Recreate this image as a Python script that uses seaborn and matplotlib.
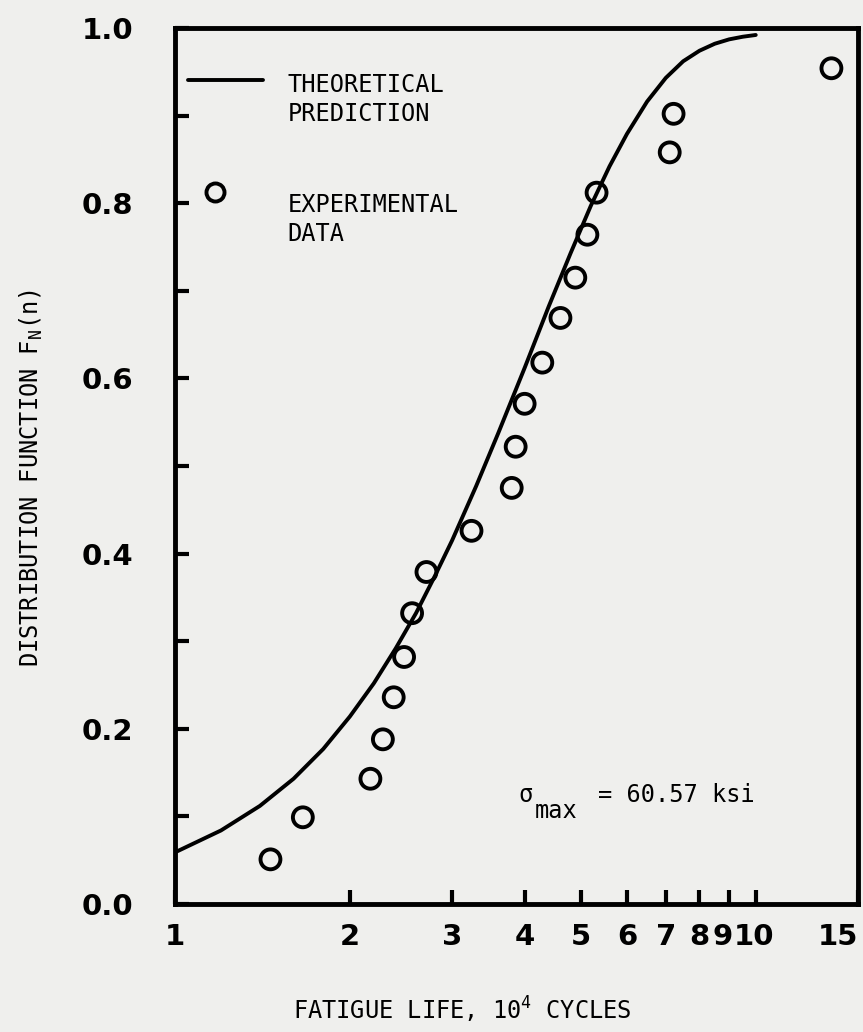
import numpy as np
import pandas as pd
import matplotlib
matplotlib.use("Agg")
import matplotlib.pyplot as plt
import matplotlib.transforms as mtransforms
from matplotlib.ticker import FixedLocator, NullLocator, FixedFormatter
from matplotlib.lines import Line2D
import seaborn as sns

# experimental data (fatigue life in 10^4 cycles, distribution function)
exp_life = [1.46, 1.66, 2.17, 2.28, 2.38, 2.48, 2.56, 2.71, 3.24, 3.80,
            3.86, 4.00, 4.29, 4.61, 4.89, 5.13, 5.32, 7.11, 7.22, 13.5]
exp_fn = [0.051, 0.099, 0.143, 0.188, 0.236, 0.282, 0.332, 0.379, 0.426, 0.475,
          0.522, 0.571, 0.618, 0.669, 0.715, 0.764, 0.812, 0.858, 0.902, 0.954]

# theoretical prediction curve
theo_life = [1.0, 1.2, 1.4, 1.6, 1.8, 2.0, 2.2, 2.4, 2.6, 2.8, 3.0, 3.3, 3.6,
             4.0, 4.4, 4.8, 5.2, 5.6, 6.0, 6.5, 7.0, 7.5, 8.0, 8.5, 9.0, 9.5, 10.0]
theo_fn = [0.059, 0.084, 0.112, 0.143, 0.177, 0.214, 0.252, 0.292, 0.332, 0.374,
           0.415, 0.477, 0.537, 0.612, 0.682, 0.743, 0.797, 0.842, 0.879, 0.916,
           0.943, 0.962, 0.974, 0.982, 0.987, 0.990, 0.992]

x_ticks = [1, 2, 3, 4, 5, 6, 7, 8, 9, 10, 15]
x_ticklabels = ["1", "2", "3", "4", "5", "6", "7", "8", "9", "10", "15"]
y_ticks = [0.0, 0.2, 0.4, 0.6, 0.8, 1.0]
y_ticklabels = ["0.0", "0.2", "0.4", "0.6", "0.8", "1.0"]
y_minor = [0.1, 0.3, 0.5, 0.7, 0.9]

df_exp = pd.DataFrame({"life": exp_life, "fn": exp_fn})
df_theo = pd.DataFrame({"life": theo_life, "fn": theo_fn})

paper = "#efefed"
sns.set_style("ticks")
plt.rcParams["font.family"] = ["DejaVu Sans Mono", "DejaVu Sans"]
plt.rcParams.update({"text.color": "black", "axes.labelcolor": "black",
                     "xtick.color": "black", "ytick.color": "black",
                     "mathtext.fontset": "dejavusans"})

fig = plt.figure(figsize=(8.63, 10.32), dpi=100, facecolor=paper)
ax = fig.add_axes([0.2028, 0.1240, 0.7914, 0.8489], facecolor=paper)

sns.lineplot(data=df_theo, x="life", y="fn", color="black", linewidth=2.8, ax=ax)
sns.scatterplot(data=df_exp, x="life", y="fn", marker="o", s=205,
                facecolor="none", edgecolor="black", linewidth=2.8, ax=ax,
                clip_on=False, zorder=5)

ax.set_xscale("log")
ax.set_xlim(1, 15)
ax.set_ylim(0, 1.0)

ax.xaxis.set_major_locator(FixedLocator(x_ticks))
ax.xaxis.set_major_formatter(FixedFormatter(x_ticklabels))
ax.xaxis.set_minor_locator(NullLocator())
ax.yaxis.set_major_locator(FixedLocator(y_ticks))
ax.yaxis.set_major_formatter(FixedFormatter(y_ticklabels))
ax.yaxis.set_minor_locator(FixedLocator(y_minor))

ax.tick_params(axis="both", which="both", direction="in", length=10, width=3,
               color="black", top=False, right=False)
ax.tick_params(axis="y", which="major", pad=30)
ax.tick_params(axis="x", which="major", pad=14)
xlabels = ax.get_xticklabels()
for lab in xlabels + ax.get_yticklabels():
    lab.set_fontfamily("DejaVu Sans")
    lab.set_fontweight("bold")
    lab.set_fontsize(21)
xlabels[-1].set_horizontalalignment("right")
# squeeze "9" and "10" together like the original lettering
xlabels[8].set_transform(xlabels[8].get_transform() +
                         mtransforms.ScaledTranslation(-5 / 72, 0, fig.dpi_scale_trans))
xlabels[9].set_transform(xlabels[9].get_transform() +
                         mtransforms.ScaledTranslation(-1 / 72, 0, fig.dpi_scale_trans))

for sp in ax.spines.values():
    sp.set_linewidth(3.5)
    sp.set_color("black")
    sp.set_visible(True)

ax.set_xlabel("FATIGUE LIFE, 10$^\\mathregular{4}$ CYCLES", fontsize=17)
ax.xaxis.set_label_coords(0.42, -0.104)
ax.set_ylabel("DISTRIBUTION FUNCTION F$_\\mathregular{N}$(n)", fontsize=17)
ax.yaxis.set_label_coords(-0.191, 0.486)

# legend drawn in the style of the original figure
ax.add_line(Line2D([0.019, 0.129], [0.9406, 0.9406], transform=ax.transAxes,
                   color="black", linewidth=2.8))
ax.add_line(Line2D([0.0586], [0.8128], transform=ax.transAxes, color="black",
                   marker="o", markersize=13, markerfacecolor="none",
                   markeredgewidth=2.8, linestyle="none"))
ax.text(0.165, 0.9486, "THEORETICAL\nPREDICTION", transform=ax.transAxes,
        fontsize=17, va="top", ha="left", linespacing=1.25)
ax.text(0.165, 0.8116, "EXPERIMENTAL\nDATA", transform=ax.transAxes,
        fontsize=17, va="top", ha="left", linespacing=1.25)

# sigma_max note, subscript set low at full size as on the original
ax.text(3.9, 0.124, "\u03c3", fontsize=17, ha="left", va="center")
ax.text(4.17, 0.106, "max", fontsize=17, ha="left", va="center")
ax.text(5.34, 0.124, "= 60.57 ksi", fontsize=17, ha="left", va="center")

fig.savefig("out.png", dpi=100, facecolor=paper)
